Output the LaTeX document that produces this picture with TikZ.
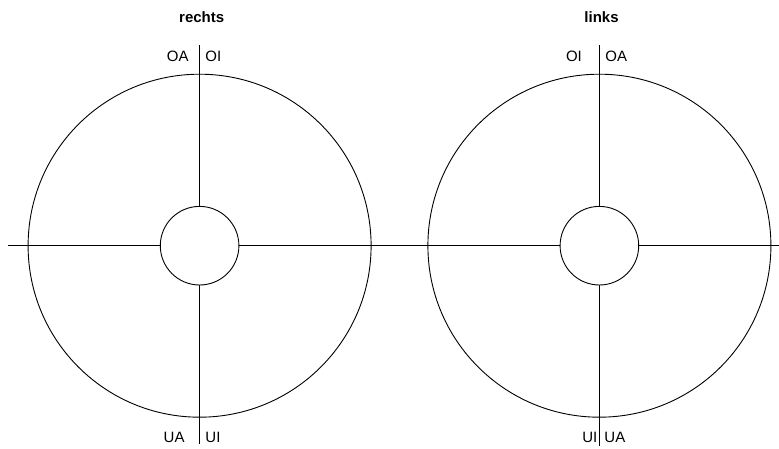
\documentclass[tikz,border=0pt]{standalone}
\usepackage{fontspec}
\setmainfont{Liberation Sans}
\begin{document}
\begin{tikzpicture}[x=1pt,y=-1pt,line width=0.9pt,
  ring/.style={draw,circle,inner sep=0,outer sep=0,minimum size=343pt},
  hub/.style={draw,circle,inner sep=0,outer sep=0,minimum size=78.6pt},
  lbl/.style={inner sep=0,font=\fontsize{15}{18}\selectfont},
  ttl/.style={inner sep=0,anchor=base,font=\fontsize{15}{18}\selectfont\bfseries}]
\useasboundingbox (0,0) rectangle (779,449);
% left
\node[ring] (lo) at (199.6,245.7) {};
\node[hub] (li) at (199.6,245.7) {};
% right
\node[ring] (ro) at (599.4,245.7) {};
\node[hub] (ri) at (599.4,245.7) {};
\coordinate (hl) at (8,245.7);
\coordinate (hr) at (779,245.7);
\coordinate (lt) at (199.6,45);
\coordinate (lb) at (199.6,444);
\coordinate (rt) at (599.4,45);
\coordinate (rb) at (599.4,446);
\draw (hl) -- (li.west);
\draw (li.east) -- (ri.west);
\draw (ri.east) -- (hr);
\draw (lt) -- (li.north);
\draw (li.south) -- (lb);
\draw (rt) -- (ri.north);
\draw (ri.south) -- (rb);
% titles
\node[ttl] (tr) at (201.7,22.7) {rechts};
\node[ttl] (tl) at (601.5,22.7) {links};
% labels
\node[lbl,anchor=base east] (a1) at (189,61.7) {OA};
\node[lbl,anchor=base west] (a2) at (205,61.7) {OI};
\node[lbl,anchor=base east] (a3) at (582.3,61.7) {OI};
\node[lbl,anchor=base west] (a4) at (605,61.7) {OA};
\node[lbl,anchor=base east] (a5) at (185,442.7) {UA};
\node[lbl,anchor=base west] (a6) at (205,442.7) {UI};
\node[lbl,anchor=base east] (a7) at (597.7,442.7) {UI};
\node[lbl,anchor=base west] (a8) at (604,442.7) {UA};
\end{tikzpicture}
\end{document}
